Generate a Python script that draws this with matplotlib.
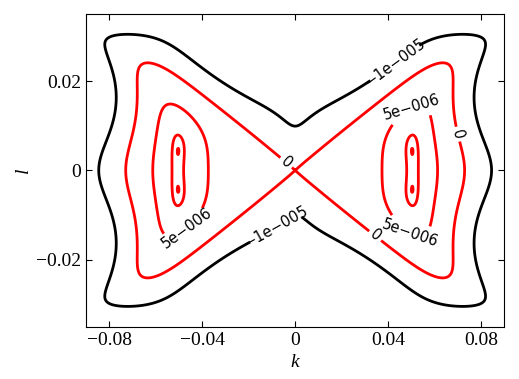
import numpy as np
import matplotlib
matplotlib.use('Agg')
import matplotlib.pyplot as plt

# Contour points (first quadrant, the field is mirror symmetric in k and l)
k_neg = [0.0, 0.0037, 0.0085, 0.0165, 0.0290, 0.0367, 0.0482, 0.0558, 0.0625, 0.0644, 0.0724, 0.0773,
         0.0794, 0.0823, 0.0830, 0.0820]
l_neg = [0.00995, 0.0105, 0.0124, 0.0147, 0.0198, 0.0224, 0.0261, 0.0285, 0.0298, 0.0309, 0.0314, 0.0306,
         0.0290, 0.0261, 0.0200, 0.0]
k_zero = [0.0060, 0.0171, 0.0279, 0.0379, 0.0429, 0.0515, 0.0580, 0.0644, 0.0701, 0.0716, 0.0718]
l_zero = [0.0028, 0.0082, 0.0130, 0.0168, 0.0187, 0.0216, 0.0229, 0.0235, 0.0213, 0.0157, 0.0]
k_pos = [0.0372, 0.0374, 0.0410, 0.0467, 0.0553, 0.0608, 0.0608]
l_pos = [0.0, 0.0045, 0.0097, 0.0134, 0.0149, 0.0100, 0.0]
k_inner = [0.0480, 0.0530, 0.0503]
l_inner = [0.0, 0.0, 0.0079]
k_peak, l_peak = 0.0503, 0.0042
peak_rise = 1.2e-8      # height of the twin peaks above the saddle between them
cross_slope = 0.47      # slope of the zero lines crossing at the origin
# where a contour runs flat (top) or upright (side)
k_flat = [0.0724, 0.0644, 0.0553]
l_flat = [0.0314, 0.0235, 0.0149]
k_side = [0.0832]
l_side = [0.0180]
# rough values outside the outermost contour, from the spacing of the contours
k_out = [0.0724, 0.0500, 0.0900, 0.0900, 0.0860]
l_out = [0.0350, 0.0350, 0.0000, 0.0300, 0.0350]
v_out = [-1.5e-5, -2.5e-5, -1.9e-5, -2.0e-5, -2.0e-5]

level_neg, level_zero, level_pos = -1e-5, 0.0, 5e-6
label_fmt = {level_neg: '\u22121e\u2212005', level_zero: '0', level_pos: '5e\u2212006'}

xticks = [-0.08, -0.04, 0, 0.04, 0.08]
xtick_labels = ['\u22120.08', '\u22120.04', '0', '0.04', '0.08']
yticks = [-0.02, 0, 0.02]
ytick_labels = ['\u22120.02', '0', '0.02']

# pixels per unit on screen, used to weight the fit by distance on the page
PX_K, PX_L = 2325.0, 4483.0


def full_basis(k, l, K0):
    K, L = np.square(k), np.square(l)
    return np.stack([K, K ** 2, L, K * L, K ** 2 * L, L ** 2 / (K + K0), L ** 2, K * L ** 2, L ** 3,
                     L ** 4, K * L ** 3, K ** 3, K ** 2 * L ** 2], axis=-1)


def make_basis(idx, K0):
    def basis(k, l):
        return full_basis(k, l, K0)[..., idx]
    return basis


def grad_px(basis, k, l):
    h = 1e-6
    gk = (basis(k + h, l) - basis(k - h, l)) / (2 * h) / PX_K
    gl = (basis(k, l + h) - basis(k, l - h)) / (2 * h) / PX_L
    return gk, gl


kc = np.linspace(0, 0.09, 91)
lc = np.linspace(0, 0.035, 71)
KC, LC = np.meshgrid(kc, lc)


def fit(idx, K0):
    basis = make_basis(idx, K0)
    pts = [(kk, ll, v, 1.0) for ks, ls, v in [(k_neg, l_neg, level_neg), (k_zero, l_zero, level_zero),
                                               (k_pos, l_pos, level_pos)] for kk, ll in zip(ks, ls)]
    n_main = len(pts)
    pts += [(kk, ll, v, 0.3) for kk, ll, v in zip(k_out, l_out, v_out)]
    P = np.array([basis(kk, ll) for kk, ll, v, f in pts])
    vals = np.array([v for kk, ll, v, f in pts])
    fac = np.array([f for kk, ll, v, f in pts])
    G = [grad_px(basis, kk, ll) for kk, ll, v, f in pts]
    T = [grad_px(basis, kk, ll) for kk, ll in zip(k_flat, l_flat)]
    S = [grad_px(basis, kk, ll) for kk, ll in zip(k_side, l_side)]

    W = 1e10
    heavy, heavy_rhs = [], []
    ref = basis(k_inner[2], l_inner[2])
    for kk, ll in zip(k_inner[:2], l_inner[:2]):
        heavy.append(W * (basis(kk, ll) - ref))
        heavy_rhs.append(0.0)
    heavy.append(W * (basis(k_peak, l_peak) - basis(k_peak, 0.0)))
    heavy_rhs.append(W * peak_rise)
    gk, gl = grad_px(basis, k_peak, l_peak)
    heavy += [W * gk, W * gl]
    heavy_rhs += [0.0, 0.0]
    slope_row = np.zeros(P.shape[1])
    slope_row[0], slope_row[2] = 1.0, cross_slope ** 2
    heavy.append(5e4 * slope_row)
    heavy_rhs.append(0.0)
    heavy = np.array(heavy)

    w = np.full(len(pts), 2e6) * fac
    wt = np.full(len(T), 6e6)
    ws = np.full(len(S), 6e6)
    gm = np.full(len(pts), 5e-7)
    for _ in range(5):
        tan_rows = [wt[i] * T[i][0] for i in range(len(T))] + [ws[i] * S[i][1] for i in range(len(S))]
        A = np.vstack([P * w[:, None], np.array(tan_rows), heavy])
        b = np.r_[vals * w, np.zeros(len(tan_rows)), heavy_rhs]
        norms = np.linalg.norm(A, axis=0)
        cs, *_ = np.linalg.lstsq(A / norms, b, rcond=None)
        c = cs / norms
        gm = np.clip([np.hypot(a @ c, d @ c) for a, d in G], 5e-8, 5e-6)
        w = fac / gm
        wt = 3.0 / np.clip([np.hypot(a @ c, d @ c) for a, d in T], 5e-8, 5e-6)
        ws = 3.0 / np.clip([np.hypot(a @ c, d @ c) for a, d in S], 5e-8, 5e-6)
    err_px = float(np.sqrt(np.mean(((P @ c - vals) / gm)[:n_main] ** 2)))
    FC = basis(KC, LC) @ c
    edge = max(FC[-1, :].max(), FC[:, -1].max())
    below = FC < level_neg
    # once a column drops under the outer level going up, it must stay there
    closed = not np.any(below[:-1, :] & ~below[1:, :])
    ok = (edge < level_neg and closed and (basis(0.0, 0.005) @ c) < 0
          and (basis(0.005, 0.0) @ c) > 0)
    return (0 if ok else 1, err_px), c, basis


variants = [list(range(9)), list(range(10)), list(range(11)), list(range(13))]
fits = [fit(idx, K0) for idx in variants for K0 in np.geomspace(5e-6, 6e-5, 20)]
score, coef, basis_fn = min(fits, key=lambda t: t[0])


def field(k, l):
    return basis_fn(k, l) @ coef


kk = np.linspace(-0.09, 0.09, 1801)
ll = np.linspace(-0.035, 0.035, 1401)
KG, LG = np.meshgrid(kk, ll)
F = field(KG, LG)

lam = float(field(k_inner[2], l_inner[2]))
f_saddle = float(field(k_peak, 0.0))
f_max = float(F.max())
dot_level = f_max - 0.1 * (f_max - f_saddle)

levels = sorted(set([level_neg, level_zero, level_pos, lam, dot_level]))
colors = ['k' if v < 0 else 'r' for v in levels]

plt.rcParams['font.family'] = 'Liberation Serif'
fig = plt.figure(figsize=(5.19, 3.79), dpi=100)
ax = fig.add_axes([0.1657, 0.138, 0.806, 0.825])

cs = ax.contour(KG, LG, F, levels=levels, colors=colors, linewidths=2)
label_pos = [(0.0428, 0.0241), (-0.0088, -0.0122), (-0.0041, 0.0016), (0.0716, 0.0083),
             (0.0336, -0.0152), (0.0512, 0.0130), (0.0508, -0.0130), (-0.0474, -0.0126)]
ax.clabel(cs, [level_neg, level_zero, level_pos], fmt=label_fmt, inline=True, fontsize=10.5,
          colors='k', manual=label_pos, inline_spacing=4)
for t in cs.labelTexts:
    t.set_family('DejaVu Sans')

ax.set_xlim(-0.09, 0.09)
ax.set_ylim(-0.035, 0.035)
ax.set_xticks(xticks)
ax.set_xticklabels(xtick_labels)
ax.set_yticks(yticks)
ax.set_yticklabels(ytick_labels)
ax.tick_params(direction='in', top=True, right=True, length=4, labelsize=14)
ax.set_xlabel('k', fontsize=14, fontstyle='italic', labelpad=4)
ax.set_ylabel('l', fontsize=14, fontstyle='italic', labelpad=3)

fig.savefig('out.png', dpi=100)
